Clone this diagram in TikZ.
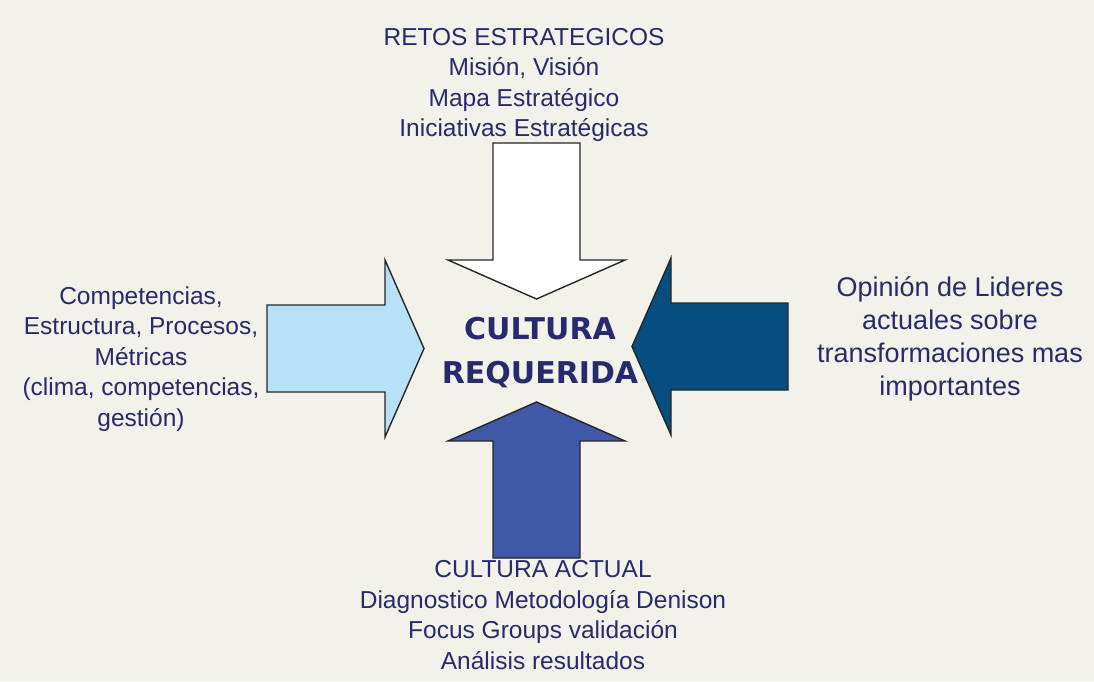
\documentclass[tikz,border=0pt]{standalone}
\usepackage{fontspec}
\setmainfont{Liberation Sans}
\newfontfamily\corefont{DejaVu Sans}
\definecolor{figbg}{RGB}{242,242,234}
\definecolor{figink}{RGB}{40,42,110}
\definecolor{figlight}{RGB}{184,225,247}
\definecolor{figdark}{RGB}{6,78,128}
\definecolor{figmid}{RGB}{63,88,167}
\newcommand{\shaftHW}{43.5}
\newcommand{\headHW}{88.5}
\tikzset{
  blk/.style    ={draw=black!85,line width=1.4pt,line join=miter},
  lab/.style    ={text=figink,align=center,inner sep=0pt,font=\fontsize{24.5}{30.5}\selectfont},
  biglab/.style ={lab,font=\fontsize{27}{33}\selectfont},
  corelab/.style={text=figink,align=center,inner sep=0pt,font=\corefont\bfseries\fontsize{30}{44}\selectfont},
}
% block arrow, vertical: fill, x, y tail, y head base, y tip
\newcommand{\vblock}[5]{%
  \pgfmathsetmacro{\xa}{#2-\shaftHW}%
  \pgfmathsetmacro{\xb}{#2+\shaftHW}%
  \pgfmathsetmacro{\xc}{#2-\headHW}%
  \pgfmathsetmacro{\xd}{#2+\headHW}%
  \draw[blk,fill=#1] (\xa,#3) -- (\xb,#3) -- (\xb,#4) -- (\xd,#4) -- (#2,#5)
    -- (\xc,#4) -- (\xa,#4) -- cycle;
}
% block arrow, horizontal: fill, y, x tail, x head base, x tip
\newcommand{\hblock}[5]{%
  \pgfmathsetmacro{\ya}{#2-\shaftHW}%
  \pgfmathsetmacro{\yb}{#2+\shaftHW}%
  \pgfmathsetmacro{\yc}{#2-\headHW}%
  \pgfmathsetmacro{\yd}{#2+\headHW}%
  \draw[blk,fill=#1] (#3,\ya) -- (#4,\ya) -- (#4,\yc) -- (#5,#2) -- (#4,\yd)
    -- (#4,\yb) -- (#3,\yb) -- cycle;
}
\begin{document}
\begin{tikzpicture}[x=1pt,y=-1pt]
  \fill[figbg] (0,0) rectangle (1094,681);
  \useasboundingbox (0,0) rectangle (1094,681);
  \vblock{white}{536.5}{143}{260}{299}
  \vblock{figmid}{536.5}{558}{441}{402}
  \hblock{figlight}{348.5}{267}{385}{424}
  \hblock{figdark}{346.5}{788}{671}{632}
  \node[corelab] (cultura) at (540,352.5) {CULTURA\\REQUERIDA};
  \node[lab] (retos) at (524,85) {RETOS ESTRATEGICOS\\Misión, Visión\\Mapa Estratégico\\Iniciativas Estratégicas};
  \node[lab] (recursos) at (141,359) {Competencias,\\Estructura, Procesos,\\Métricas\\(clima, competencias,\\gestión)};
  \node[biglab] (lideres) at (950,339) {Opinión de Lideres\\actuales sobre\\transformaciones mas\\importantes};
  \node[lab] (actual) at (543,615) {CULTURA ACTUAL\\Diagnostico Metodología Denison\\Focus Groups validación\\Análisis resultados};
\end{tikzpicture}
\end{document}
